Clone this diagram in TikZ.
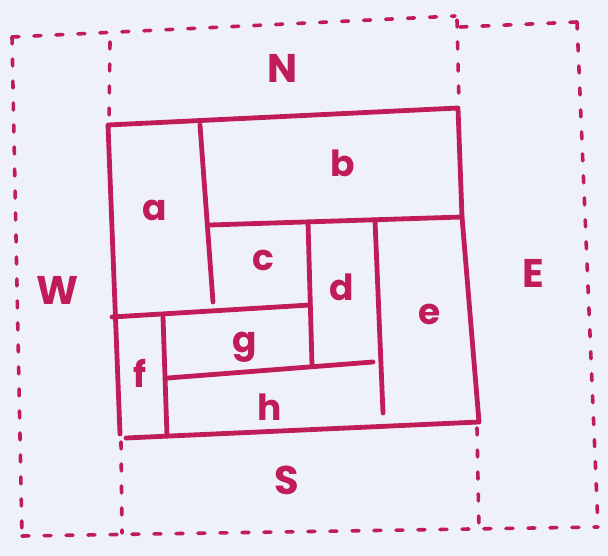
\documentclass[tikz,border=0pt]{standalone}
\usepackage{fontspec}
\setmainfont{Poppins}
\definecolor{ink}{RGB}{192,28,88}
\definecolor{paper}{RGB}{238,240,250}
\begin{document}
\begin{tikzpicture}[x=1pt,y=-1pt,
  wall/.style={draw=ink,line width=4.8pt,line cap=round,line join=round},
  zone/.style={draw=ink,line width=3.6pt,line cap=round,dash pattern=on 7pt off 15pt},
  lab/.style={text=ink,font=\fontsize{36}{40}\selectfont\bfseries,inner sep=0pt},
  caplab/.style={lab,font=\fontsize{40}{44}\selectfont\bfseries}]
\useasboundingbox[fill=paper] (0,0) rectangle (608,556);
% corner coordinates
\coordinate (TL) at (108,125);
\coordinate (TR) at (458,108);
\coordinate (RM) at (462,217);
\coordinate (BR) at (479,422);
\coordinate (LB) at (120,434);
\coordinate (BL) at (126,438);
% outer solid frame
\draw[wall] (LB) -- (TL) -- (TR) -- (RM) -- (BR) -- (BL);
% internal walls
\coordinate (ab1) at (200,125); \coordinate (ab2) at (213,302);
\coordinate (bl1) at (210,225); \coordinate (bl2) at (462,217);
\coordinate (cd1) at (308,222); \coordinate (cd2) at (312,365);
\coordinate (de1) at (375,220); \coordinate (de2) at (383,413);
\coordinate (al1) at (112,317); \coordinate (al2) at (310,305);
\coordinate (fg1) at (163,317); \coordinate (fg2) at (167,436);
\coordinate (gh1) at (168,378); \coordinate (gh2) at (373,362);
\draw[wall] (ab1) -- (ab2);
\draw[wall] (bl1) -- (bl2);
\draw[wall] (cd1) -- (cd2);
\draw[wall] (de1) -- (de2);
\draw[wall] (al1) -- (al2);
\draw[wall] (fg1) -- (fg2);
\draw[wall] (gh1) -- (gh2);
% dashed zones
\coordinate (oTL) at (12,37);
\coordinate (iTL) at (455,16);
\coordinate (iTR) at (460,27);
\coordinate (oTR) at (577,22);
\coordinate (oBL) at (22,536);
\coordinate (oBR) at (598,527);
\draw[zone] (oTL) -- (iTL);
\draw[zone] (iTR) -- (oTR);
\draw[zone] (oTL) -- (oBL);
\draw[zone] (oTR) -- (oBR);
\draw[zone] (oBL) -- (oBR);
\coordinate (wl1) at (110,42); \coordinate (wl2) at (109,120);
\coordinate (wl3) at (121,442); \coordinate (wl4) at (122,533);
\coordinate (er1) at (457,20); \coordinate (er2) at (459,104);
\coordinate (er3) at (477,428); \coordinate (er4) at (479,532);
\draw[zone] (wl1) -- (wl2);
\draw[zone] (wl3) -- (wl4);
\draw[zone] (er1) -- (er2);
\draw[zone] (er3) -- (er4);
% labels
\node[caplab] (N) at (283,68) {N};
\node[caplab] (W) at (58,290) {W};
\node[caplab] (E) at (533,273) {E};
\node[caplab] (S) at (287,480) {S};
\node[lab] (a) at (155,210) {a};
\node[lab] (b) at (343,163) {b};
\node[lab] (c) at (263,260) {c};
\node[lab] (d) at (342,287) {d};
\node[lab] (e) at (430,314) {e};
\node[lab] (g) at (245,347) {g};
\node[lab] (f) at (140,373) {f};
\node[lab] (h) at (270,407) {h};
\end{tikzpicture}
\end{document}
